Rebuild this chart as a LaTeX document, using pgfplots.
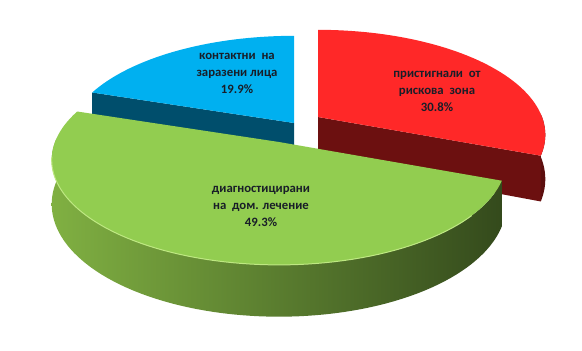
\documentclass[border=0pt]{standalone}
\usepackage{fontspec}
\setmainfont{Carlito}
\usepackage{pgfplots}
\pgfplotsset{compat=1.18}
\definecolor{bluetop}{RGB}{0,176,240}
\definecolor{blueside}{RGB}{0,78,108}
\definecolor{redtop}{RGB}{255,40,40}
\definecolor{redside}{RGB}{108,16,16}
\definecolor{greentop}{RGB}{146,205,80}
\definecolor{greenL}{RGB}{128,176,66}
\definecolor{greenM}{RGB}{88,125,46}
\definecolor{greenR}{RGB}{52,74,28}
\definecolor{greenhi}{RGB}{190,232,130}
\definecolor{lbl}{RGB}{25,30,40}
% pie geometry (pixel units): half-width, half-height, perspective, depth
\def\A{224}\def\B{102}\def\K{0.17}\def\D{43}
% data (percent)
\def\vR{30.8}\def\vG{49.3}\def\vB{19.9}
\pgfmathsetmacro\tA{3.6*\vR}
\pgfmathsetmacro\tB{3.6*(\vR+\vG)}
\pgfmathsetmacro\tAb{\tA+1000}
\pgfmathsetmacro\tBb{\tB+1000}
\begin{document}
\begin{tikzpicture}
\begin{axis}[hide axis, x=1bp, y=1bp, xmin=0, xmax=582, ymin=0, ymax=350,
  scale only axis, clip=false,
  declare function={
    ang(\s)=(\s>=1000)*(\s-1000)+(\s<1000)*\s;
    rr(\s)=(\s>=0);
    dp(\s)=(\s>=1000)+(\s+1.5<0);
    den(\s)=1+\K*rr(\s)*cos(ang(\s));
    PX(\s,\cx)=\cx+\A*rr(\s)*sin(ang(\s))/den(\s);
    PY(\s,\cy)=350-(\cy-\B*rr(\s)*cos(ang(\s))/den(\s)+\D*dp(\s)/den(\s));
  }]
% bounding
\path (axis cs:0,0) rectangle (axis cs:582,350);
% ---- blue slice
\addplot[fill=blueside, draw=none, variable=\s, samples at={-1,\tB,\tBb,-2}]
  ({PX(\s,294)},{PY(\s,123)});
\addplot[fill=bluetop, draw=none, variable=\s, samples at={-1,\tB,290,292,...,360}]
  ({PX(\s,294)},{PY(\s,123)});
% ---- red slice
\addplot[fill=redside, draw=none, variable=\s, samples at={-1,\tA,\tAb,-2}]
  ({PX(\s,318)},{PY(\s,117)});
\addplot[fill=redside!85!black, draw=none, variable=\s, samples at={88,90,...,110,\tA,\tAb,1110,1108,...,1088}]
  ({PX(\s,318)},{PY(\s,117)});
\addplot[fill=redtop, draw=none, variable=\s, samples at={-1,0,2,...,110,\tA}]
  ({PX(\s,318)},{PY(\s,117)});
% ---- green slice
\addplot[draw=none, left color=greenL, middle color=greenM, right color=greenR, variable=\s,
  samples at={\tA,112,114,...,272,1272,1270,...,1112,\tAb}]
  ({PX(\s,279)},{PY(\s,142)});
\addplot[fill=greentop, draw=none, variable=\s, samples at={-1,\tA,112,114,...,288,\tB}]
  ({PX(\s,279)},{PY(\s,142)});
\addplot[draw=greenhi, line width=1pt, variable=\s, samples at={130,132,...,262}]
  ({PX(\s,279)},{PY(\s,142)});
% ---- labels
\node[align=center, text=lbl, font=\bfseries\fontsize{12.8}{17}\selectfont] at (axis cs:237,277)
  {контактни\ \ на\\заразени лица\\19.9\%};
\node[align=center, text=lbl, font=\bfseries\fontsize{12.8}{17}\selectfont] at (axis cs:437,259)
  {пристигнали\ \ от\\рискова\ \ зона\\30.8\%};
\node[align=center, text=lbl, font=\bfseries\fontsize{12.8}{17}\selectfont] at (axis cs:261,144)
  {диагностицирани\\на\ \ дом. лечение\\49.3\%};
\end{axis}
\end{tikzpicture}
\end{document}
